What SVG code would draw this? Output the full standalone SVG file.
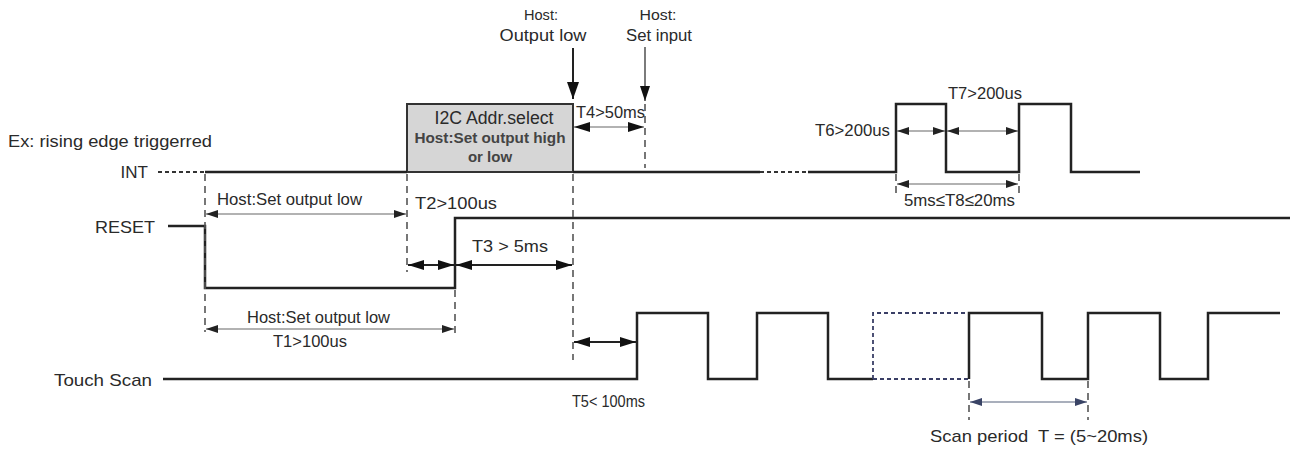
<svg xmlns="http://www.w3.org/2000/svg" width="1303" height="451" viewBox="0 0 1303 451">
<style>
text{font-family:"Liberation Sans",Arial,sans-serif;fill:#2a2a2a}
.sig{fill:none;stroke:#222;stroke-width:2.5}
.dot{fill:none;stroke:#333;stroke-width:2;stroke-dasharray:4 3}
.dotb{fill:none;stroke:#3a3f66;stroke-width:1.8;stroke-dasharray:4 3}
.vd{fill:none;stroke:#555;stroke-width:1.6;stroke-dasharray:7 5}
.thin{fill:none;stroke:#666;stroke-width:1.2}
.thick{fill:none;stroke:#222;stroke-width:2}
.blue{fill:none;stroke:#55607a;stroke-width:1.2}
.lbl{font-size:17px}
.t{font-size:17px}
</style>
<defs>
<marker id="ah" viewBox="0 0 12 8" refX="12" refY="4" markerWidth="12" markerHeight="8" markerUnits="userSpaceOnUse" orient="auto-start-reverse"><path d="M0,0 L12,4 L0,8 z" fill="#222"/></marker>
<marker id="ahb" viewBox="0 0 16 10" refX="16" refY="5" markerWidth="16" markerHeight="10" markerUnits="userSpaceOnUse" orient="auto-start-reverse"><path d="M0,0 L16,5 L0,10 z" fill="#111"/></marker>
<marker id="ahbl" viewBox="0 0 12 8" refX="12" refY="4" markerWidth="12" markerHeight="8" markerUnits="userSpaceOnUse" orient="auto-start-reverse"><path d="M0,0 L12,4 L0,8 z" fill="#3a4466"/></marker>
<marker id="down" viewBox="0 0 17 12" refX="17" refY="6" markerWidth="17" markerHeight="12" markerUnits="userSpaceOnUse" orient="auto"><path d="M0,0 L17,6 L0,12 z" fill="#111"/></marker>
<marker id="down2" viewBox="0 0 15 10" refX="15" refY="5" markerWidth="15" markerHeight="10" markerUnits="userSpaceOnUse" orient="auto"><path d="M0,0 L15,5 L0,10 z" fill="#111"/></marker>
</defs>

<g id="labels">
<text x="8" y="147" font-size="16" textLength="204" lengthAdjust="spacingAndGlyphs">Ex: rising edge triggerred</text>
<text x="148" y="178" class="lbl" text-anchor="end">INT</text>
<text x="155" y="233" class="lbl" text-anchor="end" textLength="60" lengthAdjust="spacingAndGlyphs">RESET</text>
<text x="152" y="386" class="lbl" text-anchor="end" textLength="98" lengthAdjust="spacingAndGlyphs">Touch Scan</text>
</g>

<g id="i2c-box">
<rect x="407" y="104" width="166" height="68" fill="#d6d6d6" stroke="#333" stroke-width="2"/>
<text x="494" y="124" font-size="18" text-anchor="middle" textLength="119" lengthAdjust="spacingAndGlyphs">I2C Addr.select</text>
<text x="490" y="143" font-size="15" font-weight="bold" text-anchor="middle" textLength="151" lengthAdjust="spacingAndGlyphs" style="fill:#444">Host:Set output high</text>
<text x="490" y="162" font-size="15" font-weight="bold" text-anchor="middle" style="fill:#444">or low</text>
</g>

<g id="int-signal">
<path class="dot" d="M158,172 H205"/>
<path class="sig" d="M205,172 H407 M573,172 H760"/>
<path class="dot" d="M760,172 H808"/>
<path class="sig" d="M808,172 H896 V104 H946 V172 H1019 V104 H1071 V172 H1140"/>
</g>

<g id="reset-signal">
<path class="sig" d="M168,226 H205 V288 H455 V218 H1290"/>
</g>

<g id="touch-scan-signal">
<path class="sig" d="M163,379 H637 V313 H708 V379 H757 V313 H828 V379 H873"/>
<path class="dotb" d="M873,379 V313 H969 M873,379 H969"/>
<path class="sig" d="M969,379 V313 H1042 V379 H1088 V313 H1160 V379 H1208 V313 H1280"/>
</g>

<g id="host-output-low">
<text x="541" y="20" font-size="15" text-anchor="middle" textLength="34" lengthAdjust="spacingAndGlyphs">Host:</text>
<text x="543" y="41" font-size="17" text-anchor="middle" textLength="87" lengthAdjust="spacingAndGlyphs">Output low</text>
</g>
<g id="host-set-input">
<text x="658" y="20" font-size="15" text-anchor="middle" textLength="37" lengthAdjust="spacingAndGlyphs">Host:</text>
<text x="659" y="41" font-size="16" text-anchor="middle" textLength="66" lengthAdjust="spacingAndGlyphs">Set input</text>
</g>

<g id="connectors">
<path class="thick" d="M573,48 V99" marker-end="url(#down)"/>
<path fill="none" stroke="#444" stroke-width="1.4" d="M645,47 V101" marker-end="url(#down2)"/>
<path class="vd" d="M205,174 V332"/>
<path class="vd" d="M407,174 V272"/>
<path class="vd" d="M455,290 V334"/>
<path class="vd" d="M573,174 V360"/>
<path class="vd" d="M645,104 V168"/>
<path class="vd" d="M896,174 V196"/>
<path class="vd" d="M1019,174 V196"/>
<path class="vd" d="M969,381 V420"/>
<path class="vd" d="M1088,381 V420"/>
<path class="thin" d="M206,214 H406" marker-start="url(#ah)" marker-end="url(#ah)"/>
<path class="thick" d="M408,265 H454" marker-start="url(#ahb)" marker-end="url(#ahb)"/>
<path class="thick" d="M456,265 H572" marker-start="url(#ahb)" marker-end="url(#ahb)"/>
<path class="thin" d="M574,127 H644" marker-start="url(#ahb)" marker-end="url(#ahb)"/>
<path class="thin" d="M206,329 H454" marker-start="url(#ah)" marker-end="url(#ah)"/>
<path class="thick" d="M574,342 H636" marker-start="url(#ahb)" marker-end="url(#ahb)"/>
<path class="thin" d="M897,131 H945" marker-start="url(#ah)" marker-end="url(#ah)"/>
<path class="thin" d="M947,131 H1018" marker-start="url(#ah)" marker-end="url(#ah)"/>
<path class="thin" d="M897,184 H1018" marker-start="url(#ah)" marker-end="url(#ah)"/>
<path class="blue" d="M970,402 H1087" marker-start="url(#ahbl)" marker-end="url(#ahbl)"/>
</g>

<g id="timing-labels">
<text x="217" y="205" class="t" textLength="145" lengthAdjust="spacingAndGlyphs">Host:Set output low</text>
<text x="415" y="209" class="t" textLength="82" lengthAdjust="spacingAndGlyphs">T2&gt;100us</text>
<text x="472" y="252" class="t" textLength="76" lengthAdjust="spacingAndGlyphs">T3 &gt; 5ms</text>
<text x="576" y="118" class="t" textLength="69" lengthAdjust="spacingAndGlyphs">T4&gt;50ms</text>
<text x="247" y="323" class="t" textLength="143" lengthAdjust="spacingAndGlyphs">Host:Set output low</text>
<text x="273" y="347" class="t" textLength="74" lengthAdjust="spacingAndGlyphs">T1&gt;100us</text>
<text x="572" y="407" class="t" textLength="73" lengthAdjust="spacingAndGlyphs">T5&lt; 100ms</text>
<text x="815" y="136" class="t" textLength="75" lengthAdjust="spacingAndGlyphs">T6&gt;200us</text>
<text x="948" y="99" class="t" textLength="74" lengthAdjust="spacingAndGlyphs">T7&gt;200us</text>
<text x="904" y="206" class="t" textLength="111" lengthAdjust="spacingAndGlyphs">5ms≤T8≤20ms</text>
<text x="930" y="442" class="t" textLength="218" lengthAdjust="spacingAndGlyphs">Scan period&#160; T = (5~20ms)</text>
</g>
</svg>
